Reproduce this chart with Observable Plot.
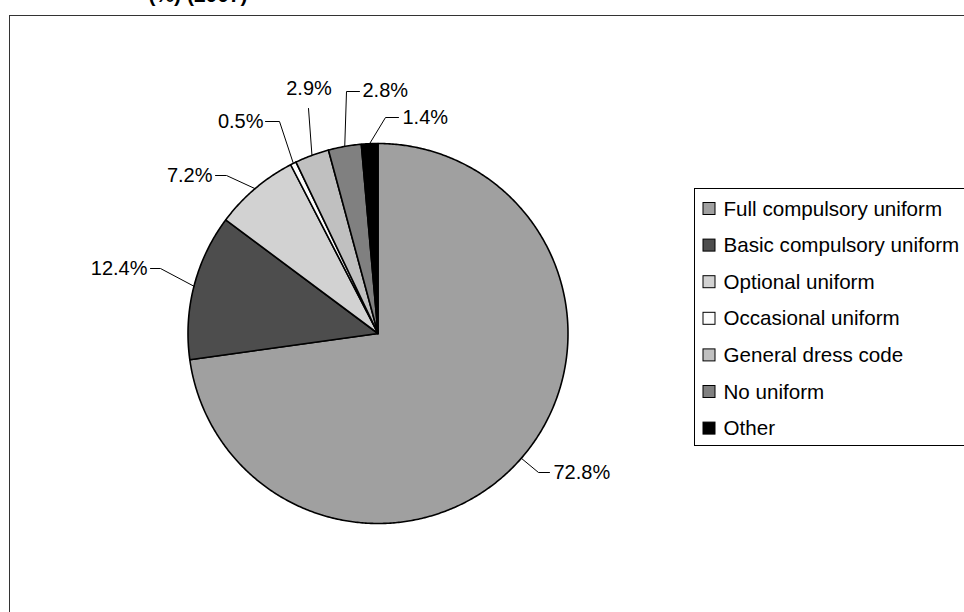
<!DOCTYPE html>
<html>
<head>
<meta charset="utf-8">
<script src="https://cdn.jsdelivr.net/npm/d3@7"></script>
<script src="https://cdn.jsdelivr.net/npm/@observablehq/plot@0.6"></script>
<style>
  html, body { margin: 0; padding: 0; background: #fff; }
  #chart svg { display: block; }
</style>
</head>
<body>
<div id="chart"></div>
<script>
// ---- data ----
const title = "(%) (2007)";
const categories = [
  "Full compulsory uniform",
  "Basic compulsory uniform",
  "Optional uniform",
  "Occasional uniform",
  "General dress code",
  "No uniform",
  "Other"
];
const shares = [72.8, 12.4, 7.2, 0.5, 2.9, 2.8, 1.4];

// ---- style / layout ----
const palette = ["#a0a0a0", "#4d4d4d", "#d2d2d2", "#fcfcfc", "#c0c0c0", "#808080", "#000000"];
const font = "'Liberation Sans', Arial, sans-serif";
const cx = 377.5, cy = 333, R = 190;
const labelLayout = [
  {elbow: [[538, 472], [549, 472]], tx: 553, ty: 472, anchor: "start"},
  {elbow: [[160, 268], [150, 268]], tx: 147, ty: 268, anchor: "end"},
  {elbow: [[226, 175], [215, 175]], tx: 212, ty: 175, anchor: "end"},
  {elbow: [[279, 121], [265, 121]], tx: 263, ty: 121, anchor: "end"},
  {elbow: [[308, 108]], tx: 308.5, ty: 88, anchor: "middle"},
  {elbow: [[346, 91], [359, 91]], tx: 362, ty: 90, anchor: "start"},
  {elbow: [[385, 117], [398, 117]], tx: 402, ty: 117, anchor: "start"}
];
const legendX = 703, legendY0 = 208.5, legendStep = 36.6, sq = 12;

// ---- geometry from values ----
const slicePts = [];
const leaderPts = [];
const labelRows = [];
let acc = 0;
categories.forEach((c, i) => {
  const a0 = acc / 100 * 2 * Math.PI;
  acc += shares[i];
  const a1 = acc / 100 * 2 * Math.PI;
  const n = Math.max(2, Math.ceil((a1 - a0) / (Math.PI / 360)));
  slicePts.push({category: c, x: cx, y: cy});
  for (let k = 0; k <= n; k++) {
    const a = a0 + (a1 - a0) * k / n;
    slicePts.push({category: c, x: cx + R * Math.sin(a), y: cy - R * Math.cos(a)});
  }
  slicePts.push({category: c, x: cx, y: cy});
  const am = (a0 + a1) / 2;
  const L = labelLayout[i];
  leaderPts.push({category: c, x: cx + R * Math.sin(am), y: cy - R * Math.cos(am)});
  L.elbow.forEach(([x, y]) => leaderPts.push({category: c, x, y}));
  labelRows.push({text: shares[i].toFixed(1) + "%", x: L.tx, y: L.ty, anchor: L.anchor});
});

const legendRows = categories.map((c, i) => ({
  category: c,
  y: legendY0 + i * legendStep
}));

const chart = Plot.plot({
  width: 964,
  height: 612,
  margin: 0,
  x: {type: "identity", axis: null},
  y: {type: "identity", axis: null},
  color: {type: "ordinal", domain: categories, range: palette},
  style: {fontFamily: font, background: "#fff"},
  marks: [
    // outer frame
    Plot.rect([{}], {x1: 9.5, y1: 15.5, x2: 1200, y2: 900, fill: "none", stroke: "#333", strokeWidth: 1}),
    // title (last line, mostly above the viewport as in the reference)
    Plot.text([title], {x: 197.5, y: 1, text: d => d, fontSize: 21, fontWeight: "bold", lineAnchor: "bottom", fill: "#000"}),
    // pie slices
    Plot.line(slicePts, {x: "x", y: "y", z: "category", fill: "category", stroke: "#000", strokeWidth: 1.6, strokeLinejoin: "round"}),
    // leader lines
    Plot.line(leaderPts, {x: "x", y: "y", z: "category", stroke: "#000", strokeWidth: 1}),
    // value labels
    ...["start", "middle", "end"].map(anc =>
      Plot.text(labelRows.filter(d => d.anchor === anc), {x: "x", y: "y", text: "text", textAnchor: anc, fontSize: 20, fill: "#000"})
    ),
    // legend box
    Plot.rect([{}], {x1: 694.5, y1: 188.5, x2: 1200, y2: 445.5, fill: "#fff", stroke: "#000", strokeWidth: 1}),
    Plot.rect(legendRows, {x1: legendX, x2: legendX + sq, y1: d => d.y - sq / 2, y2: d => d.y + sq / 2, fill: "category", stroke: "#000", strokeWidth: 1}),
    Plot.text(legendRows, {x: 723, y: "y", text: "category", textAnchor: "start", fontSize: 20.6, fill: "#000"})
  ]
});
document.getElementById("chart").append(chart);
</script>
</body>
</html>
